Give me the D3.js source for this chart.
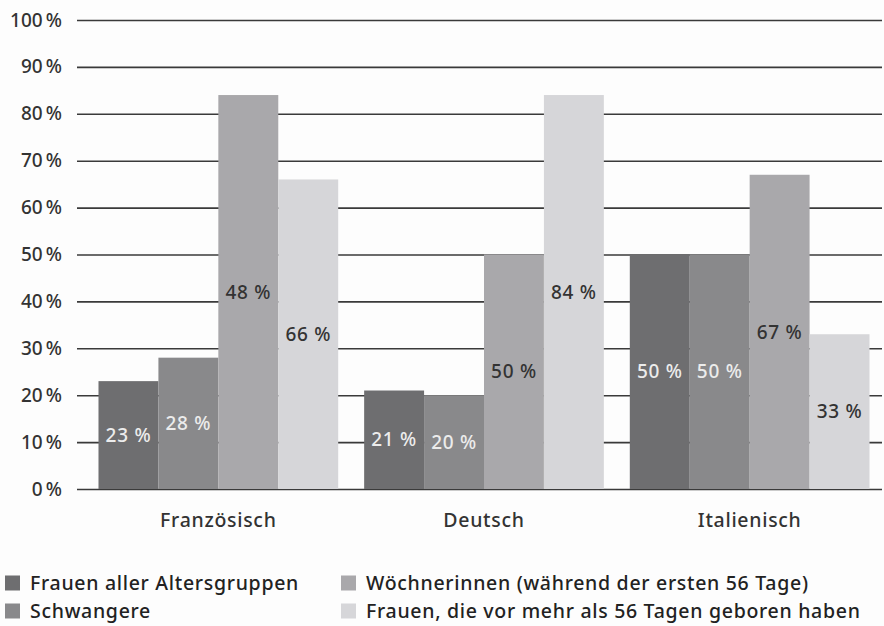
<!DOCTYPE html>
<html>
<head>
<meta charset="utf-8">
<script src="https://cdn.jsdelivr.net/npm/d3@7"></script>
<style>
  body { margin: 0; background: #fdfdfd; }
  svg { display: block; }
  text { font-family: 'Noto Sans', 'Open Sans', sans-serif; letter-spacing: 0.7px; font-weight: 500; }
</style>
</head>
<body>
<div id="chart"></div>
<script>
// categories and series
const categories = ["Französisch", "Deutsch", "Italienisch"];
const seriesNames = [
  "Frauen aller Altersgruppen",
  "Schwangere",
  "Wöchnerinnen (während der ersten 56 Tage)",
  "Frauen, die vor mehr als 56 Tagen geboren haben"
];
// bar heights per category, one value per series
const valuesFr = [23, 28, 84, 66];
const valuesDe = [21, 20, 50, 84];
const valuesIt = [50, 50, 67, 33];
// printed labels (the source prints 48 % on the 84 % bar)
const labelsFr = ["23 %", "28 %", "48 %", "66 %"];
const labelsDe = ["21 %", "20 %", "50 %", "84 %"];
const labelsIt = ["50 %", "50 %", "67 %", "33 %"];
const yTicks = [0, 10, 20, 30, 40, 50, 60, 70, 80, 90, 100];

const colors = ["#6e6e70", "#89898b", "#a9a8ab", "#d6d6d9"];
const labelColors = ["#ececec", "#ececec", "#333333", "#333333"];

const rows = [valuesFr, valuesDe, valuesIt].map((vals, i) => ({
  cat: categories[i],
  bars: vals.map((v, j) => ({ v: v, s: j, label: [labelsFr, labelsDe, labelsIt][i][j] }))
}));

const width = 884, height = 626;

const svg = d3.select("#chart")
  .append("svg")
  .attr("width", width)
  .attr("height", height);

const y = d3.scaleLinear().domain([0, 100]).range([489, 20]);

const x0 = d3.scaleBand()
  .domain(categories)
  .range([85.5, 882.5])
  .paddingInner(0.0977)
  .paddingOuter(0.0489);

const x1 = d3.scaleBand()
  .domain(d3.range(seriesNames.length))
  .range([0, x0.bandwidth()]);

// gridlines + tick labels
const yAxis = d3.axisLeft(y)
  .tickValues(yTicks)
  .tickSize(-(882 - 77))
  .tickFormat(d => d + "\u202F%");

const gAxis = svg.append("g")
  .attr("transform", "translate(77,0)")
  .call(yAxis);

gAxis.select(".domain").remove();
gAxis.selectAll(".tick line")
  .attr("stroke", "#3a3a3a")
  .attr("stroke-width", 1.6);
gAxis.selectAll(".tick text")
  .attr("x", -15)
  .attr("fill", "#333")
  .attr("font-family", null)
  .attr("font-size", 19);

// bars
const groups = svg.selectAll("g.group")
  .data(rows)
  .enter().append("g")
  .attr("class", "group")
  .attr("transform", d => "translate(" + x0(d.cat) + ",0)");

groups.selectAll("rect")
  .data(d => d.bars)
  .enter().append("rect")
  .attr("x", d => x1(d.s))
  .attr("y", d => y(d.v))
  .attr("width", x1.bandwidth())
  .attr("height", d => y(0) - y(d.v))
  .attr("fill", d => colors[d.s]);

groups.selectAll("text.val")
  .data(d => d.bars)
  .enter().append("text")
  .attr("class", "val")
  .attr("x", d => x1(d.s) + x1.bandwidth() / 2)
  .attr("y", d => (y(d.v) + y(0)) / 2)
  .attr("dy", "0.35em")
  .attr("text-anchor", "middle")
  .attr("font-size", 19)
  .attr("font-weight", d => d.s < 2 ? 400 : 500)
  .attr("fill", d => labelColors[d.s])
  .text(d => d.label);

// category labels
svg.selectAll("text.cat")
  .data(categories)
  .enter().append("text")
  .attr("class", "cat")
  .attr("x", d => x0(d) + x0.bandwidth() / 2)
  .attr("y", 527)
  .attr("text-anchor", "middle")
  .attr("font-size", 19.5)
  .attr("fill", "#333")
  .text(d => d);

// legend
const legendPos = [[5, 583], [5, 611], [341, 583], [341, 611]];

const legend = svg.selectAll("g.legend")
  .data(seriesNames)
  .enter().append("g")
  .attr("class", "legend")
  .attr("transform", (d, i) => "translate(" + legendPos[i][0] + "," + legendPos[i][1] + ")");

legend.append("rect")
  .attr("x", 0)
  .attr("y", -7.5)
  .attr("width", 15)
  .attr("height", 15)
  .attr("fill", (d, i) => colors[i]);

legend.append("text")
  .attr("x", 25)
  .attr("dy", "0.35em")
  .attr("font-size", 19.5)
  .attr("letter-spacing", "0.3px")
  .attr("fill", "#222")
  .text(d => d);
</script>
</body>
</html>
